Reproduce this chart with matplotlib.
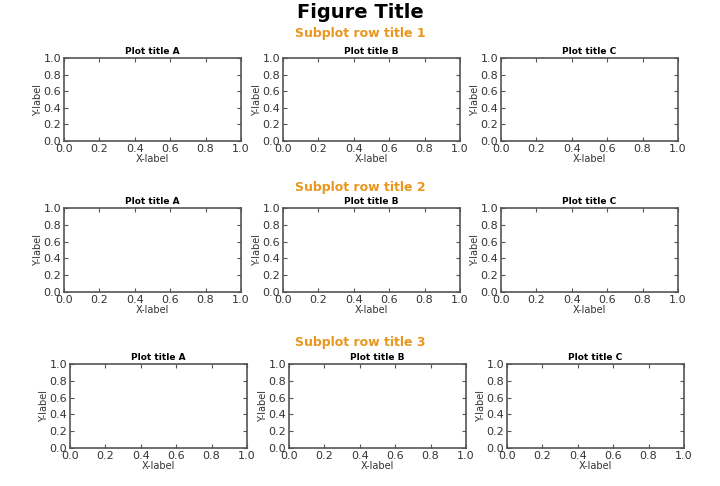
import matplotlib
matplotlib.use("Agg")
import matplotlib.pyplot as plt

fig_title = "Figure Title"
row_titles = ["Subplot row title 1", "Subplot row title 2", "Subplot row title 3"]
plot_titles = ["Plot title A", "Plot title B", "Plot title C"]
ticks = [0.0, 0.2, 0.4, 0.6, 0.8, 1.0]

W, H = 720, 486
fig = plt.figure(figsize=(W/100, H/100), dpi=100)
# pixel boxes (left, top, right, bottom)
rows = [
    ([(64, 241), (283, 460), (501, 678)], (58, 141), 33),
    ([(64, 241), (283, 460), (501, 678)], (208, 292), 187),
    ([(70, 247), (289, 466), (507, 684)], (364, 448), 342),
]
fig.text(0.5, 1 - 12/H, fig_title, ha="center", va="center", fontsize=14, fontweight="bold")
orange = "#e8961e"
for r, (xs, (t, b), ty) in enumerate(rows):
    fig.text(0.5, 1 - ty/H, row_titles[r], ha="center", va="center", fontsize=9,
             fontweight="bold", color=orange)
    for c, (l, rr) in enumerate(xs):
        ax = fig.add_axes([l/W, 1 - b/H, (rr-l)/W, (b-t)/H])
        ax.set_xlim(0, 1); ax.set_ylim(0, 1)
        ax.set_xticks(ticks); ax.set_yticks(ticks)
        ax.set_xticklabels([f"{v:.1f}" for v in ticks], fontsize=8, color="#333333")
        ax.set_yticklabels([f"{v:.1f}" for v in ticks], fontsize=8, color="#333333")
        ax.tick_params(direction="in", top=True, right=True, length=3, pad=2, color="#555555")
        for s in ax.spines.values():
            s.set_color("#555555"); s.set_linewidth(1.2)
        ax.set_title(plot_titles[c], fontsize=6.5, fontweight="bold", pad=3)
        ax.set_xlabel("X-label", fontsize=7, labelpad=0, color="#333333")
        ax.set_ylabel("Y-label", fontsize=7, labelpad=0, color="#333333")
fig.savefig("out.png", dpi=100)
